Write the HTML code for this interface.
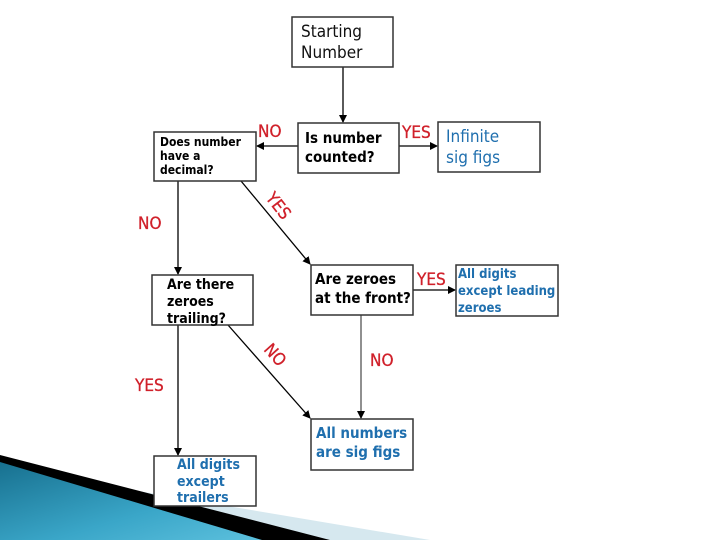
<!DOCTYPE html>
<html><head><meta charset="utf-8"><style>
body{margin:0;width:720px;height:540px;background:#fff;overflow:hidden}
svg{display:block}
.b{fill:#fff;stroke:#333;stroke-width:1.5}
.q{font-family:"DejaVu Sans Condensed","Liberation Sans",sans-serif;font-weight:bold;fill:#000}
.a{font-family:"DejaVu Sans Condensed","Liberation Sans",sans-serif;font-weight:bold;fill:#1f6fae}
.r{font-family:"DejaVu Sans Condensed","Liberation Sans",sans-serif;fill:#d0202a;font-size:17px;stroke:#d0202a;stroke-width:0.3}
</style></head><body>
<svg width="720" height="540" viewBox="0 0 720 540">
<defs><marker id="m" markerWidth="8" markerHeight="8" refX="7" refY="4" orient="auto" markerUnits="userSpaceOnUse"><path d="M0,0 L8,4 L0,8 Z" fill="#000"/></marker>
<linearGradient id="g" x1="0" y1="0" x2="1" y2="1"><stop offset="0" stop-color="#17708f"/><stop offset="0.6" stop-color="#3aa6c8"/><stop offset="1" stop-color="#5cc0dd"/></linearGradient></defs>
<polygon points="120,488 430,540 330,540" fill="#d6e8ef"/>
<polygon points="0,455 330,540 0,540" fill="#000"/>
<polygon points="0,462 262,540 0,540" fill="url(#g)"/>
<g stroke="#000" stroke-width="1.3" fill="none">
<line x1="343" y1="67" x2="343" y2="122" marker-end="url(#m)"/>
<line x1="298" y1="146" x2="257" y2="146" marker-end="url(#m)"/>
<line x1="399" y1="146" x2="437" y2="146" marker-end="url(#m)"/>
<line x1="178" y1="181" x2="178" y2="274" marker-end="url(#m)"/>
<line x1="241" y1="181" x2="310" y2="264" marker-end="url(#m)"/>
<line x1="413" y1="290" x2="455" y2="290" marker-end="url(#m)"/>
<line x1="178" y1="325" x2="178" y2="455" marker-end="url(#m)"/>
<line x1="228" y1="325" x2="310" y2="418" marker-end="url(#m)"/>
<line x1="361" y1="315" x2="361" y2="418" stroke="#555" marker-end="url(#m)"/>
</g>
<rect class="b" x="292" y="17" width="101" height="50"/>
<text x="301" y="37" font-family="DejaVu Sans Condensed,Liberation Sans,sans-serif" font-size="17" fill="#111">Starting</text>
<text x="301" y="58" font-family="DejaVu Sans Condensed,Liberation Sans,sans-serif" font-size="17" fill="#111">Number</text>
<rect class="b" x="154" y="132" width="102" height="49"/>
<text class="q" font-size="12" x="160" y="146">Does number</text><text class="q" font-size="12" x="160" y="160">have a</text><text class="q" font-size="12" x="160" y="174">decimal?</text>
<rect class="b" x="298" y="123" width="101" height="50"/>
<text class="q" font-size="15" x="305" y="143">Is number</text><text class="q" font-size="15" x="305" y="162">counted?</text>
<rect class="b" x="438" y="122" width="102" height="50"/>
<text font-family="DejaVu Sans Condensed,Liberation Sans,sans-serif" font-size="17" fill="#1f6fae" x="446" y="142">Infinite</text>
<text font-family="DejaVu Sans Condensed,Liberation Sans,sans-serif" font-size="17" fill="#1f6fae" x="446" y="163">sig figs</text>
<rect class="b" x="311" y="265" width="102" height="50"/>
<text class="q" font-size="15" x="315" y="284">Are zeroes</text><text class="q" font-size="15" x="315" y="303">at the front?</text>
<rect class="b" x="456" y="265" width="102" height="51"/>
<text class="a" font-size="13" x="458" y="278">All digits</text><text class="a" font-size="13" x="458" y="295">except leading</text><text class="a" font-size="13" x="458" y="312">zeroes</text>
<rect class="b" x="152" y="275" width="101" height="50"/>
<text class="q" font-size="14" x="167" y="289" font-weight="normal">Are there</text><text class="q" font-size="14" x="167" y="306">zeroes</text><text class="q" font-size="14" x="167" y="323">trailing?</text>
<rect class="b" x="154" y="456" width="102" height="50"/>
<text class="a" font-size="14" x="177" y="469">All digits</text><text class="a" font-size="14" x="177" y="486">except</text><text class="a" font-size="14" x="177" y="502">trailers</text>
<rect class="b" x="311" y="419" width="102" height="51"/>
<text class="a" font-size="15" x="316" y="438">All numbers</text><text class="a" font-size="15" x="316" y="457">are sig figs</text>
<text class="r" x="258" y="137">NO</text>
<text class="r" x="402" y="138">YES</text>
<text class="r" transform="translate(265,198) rotate(52)">YES</text>
<text class="r" x="138" y="229">NO</text>
<text class="r" x="417" y="285">YES</text>
<text class="r" transform="translate(263,350) rotate(48)">NO</text>
<text class="r" x="370" y="366">NO</text>
<text class="r" x="135" y="391">YES</text>
</svg>
</body></html>
